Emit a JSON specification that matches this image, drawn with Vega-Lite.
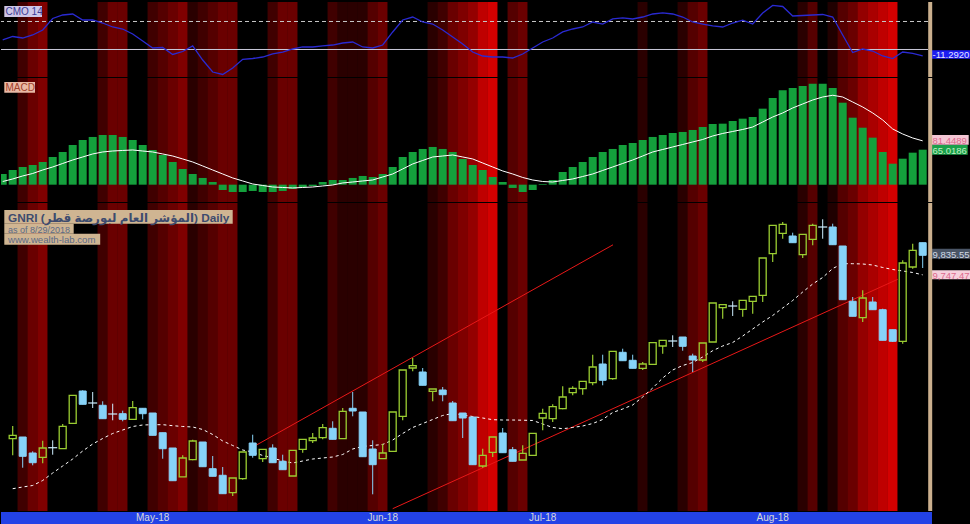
{
"$schema": "https://vega.github.io/schema/vega-lite/v6.json",
"background": "#000000",
"padding": 0,
"autosize": {"type": "pad"},
"spacing": 1,
"bounds": "flush",
"config": {"view": {"stroke": null}, "axis": {"disable": true}, "legend": {"disable": true}, "font": "Liberation Sans"},
"resolve": {"scale": {"x": "independent", "y": "independent"}},
"datasets": {
"bars": [
{"i":-1,"heat":0,"cmo":17.0,"macd":19.9,"sig":5.9},
{"i":0,"heat":0,"cmo":23.2,"macd":27.3,"sig":10.6,"o":9010.2,"h":9067.4,"l":8935.5,"c":9025.5,"sma":8785.2},
{"i":1,"heat":3,"cmo":20.5,"macd":32.9,"sig":16.2,"o":9017.9,"h":9017.9,"l":8879.7,"c":8931.0,"sma":8792.9},
{"i":2,"heat":5,"cmo":25.9,"macd":36.6,"sig":20.8,"o":8945.9,"h":8953.5,"l":8890.5,"c":8902.2,"sma":8799.7},
{"i":3,"heat":6,"cmo":34.8,"macd":42.2,"sig":27.3,"o":8926.5,"h":9001.2,"l":8899.5,"c":8968.4,"sma":8822.2},
{"i":4,"heat":0,"cmo":55.4,"macd":51.5,"sig":32.9,"o":8969.7,"h":9003.0,"l":8938.2,"c":8969.7,"sma":8855.9},
{"i":5,"heat":0,"cmo":61.6,"macd":60.8,"sig":39.4,"o":8965.2,"h":9076.4,"l":8965.2,"c":9066.0,"sma":8887.4},
{"i":6,"heat":0,"cmo":63.4,"macd":73.8,"sig":45.9,"o":9079.5,"h":9206.9,"l":9078.6,"c":9205.6,"sma":8918.9},
{"i":7,"heat":0,"cmo":52.7,"macd":83.1,"sig":51.5,"o":9224.9,"h":9228.1,"l":9165.0,"c":9165.0,"sma":8954.9},
{"i":8,"heat":0,"cmo":52.7,"macd":88.7,"sig":57.1,"o":9170.9,"h":9220.4,"l":9148.4,"c":9170.9,"sma":8986.4},
{"i":9,"heat":3,"cmo":47.3,"macd":92.4,"sig":60.8,"o":9160.6,"h":9178.6,"l":9100.3,"c":9100.3,"sma":9011.2},
{"i":10,"heat":5,"cmo":40.2,"macd":92.4,"sig":62.6,"o":9121.4,"h":9167.8,"l":9093.1,"c":9121.4,"sma":9033.7},
{"i":11,"heat":5,"cmo":36.6,"macd":88.7,"sig":63.6,"o":9122.8,"h":9136.3,"l":9088.6,"c":9097.5,"sma":9049.4},
{"i":12,"heat":0,"cmo":27.7,"macd":83.1,"sig":64.5,"o":9097.5,"h":9179.9,"l":9097.5,"c":9149.8,"sma":9065.2},
{"i":13,"heat":0,"cmo":15.2,"macd":73.8,"sig":62.6,"o":9147.0,"h":9147.0,"l":9097.5,"c":9122.8,"sma":9071.9},
{"i":14,"heat":3,"cmo":2.7,"macd":64.5,"sig":60.8,"o":9125.9,"h":9125.9,"l":9025.5,"c":9025.5,"sma":9073.3},
{"i":15,"heat":4,"cmo":3.6,"macd":55.2,"sig":57.1,"o":9037.2,"h":9037.2,"l":8920.2,"c":8965.2,"sma":9073.3},
{"i":16,"heat":5,"cmo":-8.9,"macd":42.2,"sig":53.3,"o":8968.4,"h":8968.4,"l":8821.2,"c":8821.2,"sma":9068.8},
{"i":17,"heat":6,"cmo":-3.6,"macd":29.2,"sig":47.8,"o":8838.5,"h":8935.5,"l":8838.5,"c":8923.4,"sma":9065.2},
{"i":18,"heat":2,"cmo":6.3,"macd":19.9,"sig":42.2,"o":8915.7,"h":9005.7,"l":8913.0,"c":8999.9,"sma":9062.9},
{"i":19,"heat":3,"cmo":-18.8,"macd":12.5,"sig":34.8,"o":8995.4,"h":8995.4,"l":8884.2,"c":8884.2,"sma":9051.7},
{"i":20,"heat":4,"cmo":-40.2,"macd":5.0,"sig":27.3,"o":8875.3,"h":8932.4,"l":8841.1,"c":8841.1,"sma":9029.2},
{"i":21,"heat":5,"cmo":-44.6,"macd":-9.9,"sig":19.9,"o":8845.6,"h":8882.9,"l":8762.8,"c":8762.8,"sma":9000.0},
{"i":22,"heat":5,"cmo":-33.0,"macd":-13.6,"sig":12.5,"o":8767.3,"h":8833.4,"l":8752.9,"c":8833.4,"sma":8979.7},
{"i":23,"heat":0,"cmo":-17.5,"macd":-13.6,"sig":6.9,"o":8830.3,"h":8950.4,"l":8825.8,"c":8950.4,"sma":8959.4},
{"i":24,"heat":0,"cmo":-16.1,"macd":-11.7,"sig":1.3,"o":8990.9,"h":9028.2,"l":8924.8,"c":8935.5,"sma":8950.4},
{"i":25,"heat":0,"cmo":-13.4,"macd":-13.6,"sig":-1.5,"o":8920.2,"h":8962.5,"l":8905.4,"c":8962.5,"sma":8934.7},
{"i":26,"heat":3,"cmo":-8.0,"macd":-13.6,"sig":-4.3,"o":8968.4,"h":8985.0,"l":8902.2,"c":8902.2,"sma":8923.4},
{"i":27,"heat":5,"cmo":-4.5,"macd":-11.7,"sig":-5.2,"o":8908.6,"h":8938.2,"l":8870.7,"c":8870.7,"sma":8909.9},
{"i":28,"heat":5,"cmo":0.9,"macd":-8.0,"sig":-6.1,"o":8842.4,"h":8958.0,"l":8842.4,"c":8958.0,"sma":8900.9},
{"i":29,"heat":0,"cmo":4.5,"macd":-4.3,"sig":-5.2,"o":8962.5,"h":9007.5,"l":8947.3,"c":9007.5,"sma":8909.9},
{"i":30,"heat":0,"cmo":4.5,"macd":-2.4,"sig":-4.3,"o":9001.2,"h":9035.9,"l":8990.9,"c":9013.4,"sma":8918.9},
{"i":31,"heat":0,"cmo":6.3,"macd":5.0,"sig":-2.4,"o":9014.7,"h":9076.4,"l":9007.5,"c":9059.7,"sma":8923.4},
{"i":32,"heat":3,"cmo":8.0,"macd":8.7,"sig":-0.6,"o":9057.0,"h":9088.6,"l":9007.5,"c":9007.5,"sma":8927.9},
{"i":33,"heat":2,"cmo":11.6,"macd":8.7,"sig":3.2,"o":9010.2,"h":9148.4,"l":9010.2,"c":9133.6,"sma":8939.2},
{"i":34,"heat":2,"cmo":13.4,"macd":12.5,"sig":5.0,"o":9147.0,"h":9220.4,"l":9111.1,"c":9134.9,"sma":8963.9},
{"i":35,"heat":2,"cmo":4.5,"macd":16.2,"sig":6.9,"o":9130.4,"h":9130.4,"l":8929.2,"c":8929.2,"sma":8975.2},
{"i":36,"heat":4,"cmo":2.7,"macd":14.3,"sig":8.7,"o":8963.9,"h":9003.0,"l":8760.0,"c":8893.3,"sma":8979.7},
{"i":37,"heat":5,"cmo":8.0,"macd":19.9,"sig":14.3,"o":8920.2,"h":8987.7,"l":8920.2,"c":8945.9,"sma":8984.2},
{"i":38,"heat":0,"cmo":31.3,"macd":32.9,"sig":19.9,"o":8953.5,"h":9130.4,"l":8950.4,"c":9130.4,"sma":9004.4},
{"i":39,"heat":0,"cmo":52.7,"macd":51.5,"sig":29.2,"o":9111.1,"h":9319.4,"l":9093.1,"c":9319.4,"sma":9033.7},
{"i":40,"heat":0,"cmo":58.0,"macd":60.8,"sig":38.5,"o":9328.4,"h":9373.4,"l":9313.6,"c":9338.8,"sma":9060.7},
{"i":41,"heat":0,"cmo":49.1,"macd":66.4,"sig":45.0,"o":9310.4,"h":9328.4,"l":9250.6,"c":9250.6,"sma":9078.6},
{"i":42,"heat":2,"cmo":45.5,"macd":70.1,"sig":51.5,"o":9223.6,"h":9233.9,"l":9178.6,"c":9233.9,"sma":9096.7},
{"i":43,"heat":3,"cmo":34.8,"macd":66.4,"sig":53.3,"o":9229.4,"h":9242.9,"l":9178.6,"c":9208.3,"sma":9114.7},
{"i":44,"heat":5,"cmo":22.3,"macd":60.8,"sig":55.2,"o":9170.9,"h":9179.9,"l":9091.3,"c":9091.3,"sma":9123.7},
{"i":45,"heat":6,"cmo":9.8,"macd":47.8,"sig":51.5,"o":9125.9,"h":9125.9,"l":9013.4,"c":9103.4,"sma":9116.9},
{"i":46,"heat":7,"cmo":-4.5,"macd":36.6,"sig":47.8,"o":9107.9,"h":9107.9,"l":8893.3,"c":8893.3,"sma":9110.2},
{"i":47,"heat":9,"cmo":-11.6,"macd":27.3,"sig":40.3,"o":8887.4,"h":8965.2,"l":8879.7,"c":8935.5,"sma":9103.4},
{"i":48,"heat":10,"cmo":-13.4,"macd":14.3,"sig":32.9,"o":8948.9,"h":9017.9,"l":8928.0,"c":9017.9,"sma":9095.8},
{"i":49,"heat":0,"cmo":-13.4,"macd":5.0,"sig":25.5,"o":9035.9,"h":9058.4,"l":8947.3,"c":8947.3,"sma":9094.4},
{"i":50,"heat":4,"cmo":-15.2,"macd":-6.1,"sig":19.9,"o":8960.7,"h":8972.9,"l":8908.6,"c":8908.6,"sma":9094.4},
{"i":51,"heat":5,"cmo":-8.0,"macd":-13.6,"sig":13.4,"o":8914.4,"h":8980.5,"l":8914.4,"c":8944.5,"sma":9093.5},
{"i":52,"heat":0,"cmo":2.7,"macd":-9.9,"sig":8.7,"o":8935.5,"h":9034.5,"l":8935.5,"c":9034.5,"sma":9092.2},
{"i":53,"heat":0,"cmo":13.4,"macd":1.3,"sig":5.9,"o":9103.4,"h":9145.2,"l":9048.1,"c":9124.6,"sma":9076.4},
{"i":54,"heat":0,"cmo":20.5,"macd":8.7,"sig":5.0,"o":9100.3,"h":9165.0,"l":9085.4,"c":9154.3,"sma":9060.7},
{"i":55,"heat":0,"cmo":31.3,"macd":23.6,"sig":7.8,"o":9145.2,"h":9246.0,"l":9142.6,"c":9197.9,"sma":9055.2},
{"i":56,"heat":0,"cmo":36.6,"macd":32.9,"sig":10.6,"o":9217.3,"h":9246.0,"l":9205.6,"c":9237.1,"sma":9060.7},
{"i":57,"heat":0,"cmo":40.2,"macd":42.2,"sig":15.2,"o":9235.3,"h":9268.6,"l":9208.3,"c":9268.6,"sma":9067.4},
{"i":58,"heat":0,"cmo":49.1,"macd":51.5,"sig":19.9,"o":9262.2,"h":9388.2,"l":9250.6,"c":9332.9,"sma":9078.6},
{"i":59,"heat":0,"cmo":45.5,"macd":60.8,"sig":26.4,"o":9346.4,"h":9388.2,"l":9250.6,"c":9273.1,"sma":9096.7},
{"i":60,"heat":0,"cmo":54.5,"macd":66.4,"sig":32.9,"o":9280.3,"h":9403.5,"l":9275.8,"c":9403.5,"sma":9128.2},
{"i":61,"heat":0,"cmo":56.3,"macd":73.8,"sig":39.4,"o":9399.0,"h":9415.2,"l":9361.2,"c":9361.2,"sma":9143.9},
{"i":62,"heat":0,"cmo":54.5,"macd":77.5,"sig":45.9,"o":9363.0,"h":9388.2,"l":9327.0,"c":9327.0,"sma":9161.9},
{"i":63,"heat":2,"cmo":58.0,"macd":83.1,"sig":53.3,"o":9327.0,"h":9355.4,"l":9319.9,"c":9346.4,"sma":9197.9},
{"i":64,"heat":0,"cmo":63.4,"macd":88.7,"sig":60.8,"o":9345.0,"h":9442.2,"l":9345.0,"c":9442.2,"sma":9238.4},
{"i":65,"heat":0,"cmo":65.2,"macd":92.4,"sig":65.4,"o":9427.4,"h":9453.0,"l":9392.7,"c":9453.0,"sma":9283.4},
{"i":66,"heat":0,"cmo":63.4,"macd":96.1,"sig":70.1,"o":9449.9,"h":9475.5,"l":9422.9,"c":9449.9,"sma":9319.4},
{"i":67,"heat":2,"cmo":58.0,"macd":98.0,"sig":74.7,"o":9467.9,"h":9467.9,"l":9406.2,"c":9426.0,"sma":9339.7},
{"i":68,"heat":4,"cmo":49.1,"macd":101.7,"sig":79.4,"o":9382.4,"h":9392.7,"l":9310.4,"c":9364.4,"sma":9353.2},
{"i":69,"heat":5,"cmo":45.5,"macd":107.2,"sig":84.0,"o":9364.4,"h":9440.9,"l":9355.4,"c":9440.9,"sma":9377.9},
{"i":70,"heat":0,"cmo":42.0,"macd":112.8,"sig":90.5,"o":9445.4,"h":9620.9,"l":9445.4,"c":9620.9,"sma":9406.3},
{"i":71,"heat":0,"cmo":40.2,"macd":113.4,"sig":95.2,"o":9599.7,"h":9613.2,"l":9550.2,"c":9613.2,"sma":9427.4},
{"i":72,"heat":0,"cmo":47.3,"macd":118.4,"sig":98.9,"o":9607.4,"h":9628.6,"l":9562.4,"c":9607.4,"sma":9443.2},
{"i":73,"heat":0,"cmo":52.5,"macd":122.7,"sig":102.6,"o":9592.6,"h":9633.1,"l":9559.3,"c":9633.1,"sma":9472.4},
{"i":74,"heat":0,"cmo":45.5,"macd":125.8,"sig":107.2,"o":9628.6,"h":9651.1,"l":9572.7,"c":9651.1,"sma":9503.9},
{"i":75,"heat":0,"cmo":65.2,"macd":141.3,"sig":116.5,"o":9655.6,"h":9823.4,"l":9625.4,"c":9823.4,"sma":9535.4},
{"i":76,"heat":0,"cmo":78.6,"macd":161.2,"sig":125.8,"o":9842.8,"h":9970.5,"l":9805.4,"c":9970.5,"sma":9564.7},
{"i":77,"heat":0,"cmo":76.8,"macd":175.5,"sig":133.3,"o":9934.5,"h":9985.4,"l":9910.2,"c":9975.0,"sma":9598.4},
{"i":78,"heat":0,"cmo":59.8,"macd":179.7,"sig":142.6,"o":9922.4,"h":9937.3,"l":9892.3,"c":9892.3,"sma":9632.2},
{"i":79,"heat":2,"cmo":60.7,"macd":183.5,"sig":150.0,"o":9838.3,"h":9930.0,"l":9823.4,"c":9930.0,"sma":9670.4},
{"i":80,"heat":4,"cmo":61.6,"macd":187.7,"sig":157.4,"o":9907.6,"h":9977.8,"l":9880.5,"c":9970.5,"sma":9706.4},
{"i":81,"heat":0,"cmo":62.5,"macd":187.7,"sig":163.0,"o":9962.9,"h":9997.6,"l":9910.2,"c":9962.9,"sma":9735.7},
{"i":82,"heat":1.5,"cmo":58.0,"macd":179.7,"sig":166.2,"o":9962.9,"h":9977.8,"l":9883.2,"c":9883.2,"sma":9776.2},
{"i":83,"heat":4,"cmo":25.9,"macd":152.4,"sig":163.0,"o":9877.4,"h":9877.4,"l":9635.8,"c":9635.8,"sma":9797.8},
{"i":84,"heat":5,"cmo":-5.4,"macd":124.5,"sig":153.7,"o":9628.6,"h":9647.9,"l":9561.1,"c":9561.1,"sma":9797.8},
{"i":85,"heat":7,"cmo":0.9,"macd":105.9,"sig":144.4,"o":9554.8,"h":9678.0,"l":9535.4,"c":9643.4,"sma":9796.4},
{"i":86,"heat":8,"cmo":-2.7,"macd":87.4,"sig":133.3,"o":9625.4,"h":9647.9,"l":9590.7,"c":9590.7,"sma":9791.9},
{"i":87,"heat":9,"cmo":-11.6,"macd":60.8,"sig":120.3,"o":9590.7,"h":9595.3,"l":9453.0,"c":9453.0,"sma":9780.7},
{"i":88,"heat":10,"cmo":-16.1,"macd":39.0,"sig":103.5,"o":9500.7,"h":9500.7,"l":9445.4,"c":9448.6,"sma":9771.7},
{"i":89,"heat":0,"cmo":-4.5,"macd":48.3,"sig":94.2,"o":9448.6,"h":9813.0,"l":9437.8,"c":9800.9,"sma":9764.9},
{"i":90,"heat":0,"cmo":-7.1,"macd":59.5,"sig":86.8,"o":9782.9,"h":9887.8,"l":9775.3,"c":9858.1,"sma":9758.2},
{"i":91,"heat":0,"cmo":-11.292,"macd":65.0186,"sig":81.4489,"o":9892.3,"h":9892.3,"l":9778.4,"c":9835.55,"sma":9747.47}
],
"trend": [
{"line":"upper","i":24.33,"p":8980.6},{"line":"upper","i":60.03,"p":9882.8},
{"line":"lower","i":38.0,"p":8695.3},{"line":"lower","i":88.5,"p":9727.5}
],
"months": [{"i":14,"m":"May-18"},{"i":37,"m":"Jun-18"},{"i":53,"m":"Jul-18"},{"i":76,"m":"Aug-18"}],
"one": [{}]
},
"vconcat": [
{
"width": 927, "height": 75,
"layer": [
{"data": {"name": "bars"}, "mark": {"type": "bar", "size": 10.3, "clip": true, "strokeWidth": 0},
 "encoding": {"x": {"field": "i", "type": "quantitative", "scale": {"domain": [-1.17, 91.53], "nice": false, "zero": false, "padding": 0}},
  "y": {"datum": 84.8, "scale": {"domain": [-49.1, 84.8], "nice": false, "zero": false}}, "y2": {"datum": -49.1},
  "fill": {"field": "heat", "type": "quantitative", "scale": {"type": "linear", "domain": [0, 10], "range": ["#000000", "#d40000"], "interpolate": "rgb", "zero": false, "nice": false, "clamp": true}, "legend": null}}},
{"data": {"name": "one"}, "mark": {"type": "rule", "color": "#c8c8c8", "strokeWidth": 1, "strokeDash": [4, 3]}, "encoding": {"y": {"datum": 50, "scale": {"domain": [-49.1, 84.8], "nice": false, "zero": false}}}},
{"data": {"name": "one"}, "mark": {"type": "rule", "color": "#c8c8d8", "strokeWidth": 1}, "encoding": {"y": {"datum": 0, "scale": {"domain": [-49.1, 84.8], "nice": false, "zero": false}}}},
{"data": {"name": "bars"}, "mark": {"type": "line", "color": "#2a2ad2", "strokeWidth": 1.3, "clip": true},
 "encoding": {"x": {"field": "i", "type": "quantitative", "scale": {"domain": [-1.17, 91.53], "nice": false, "zero": false, "padding": 0}},
  "y": {"field": "cmo", "type": "quantitative", "scale": {"domain": [-49.1, 84.8], "nice": false, "zero": false}}}},
{"data": {"name": "one"}, "mark": {"type": "rect", "fill": "#cdc6e6"},
 "encoding": {"x": {"datum": -0.84, "scale": {"domain": [-1.17, 91.53], "nice": false, "zero": false, "padding": 0}}, "x2": {"datum": 2.93},
  "y": {"datum": 77.7, "scale": {"domain": [-49.1, 84.8], "nice": false, "zero": false}}, "y2": {"datum": 58.0}}},
{"data": {"name": "one"}, "mark": {"type": "text", "text": "CMO 14", "align": "left", "baseline": "middle", "fontSize": 10, "color": "#3c3c96", "dy": 1},
 "encoding": {"x": {"datum": -0.72, "scale": {"domain": [-1.17, 91.53], "nice": false, "zero": false, "padding": 0}},
  "y": {"datum": 67.9, "scale": {"domain": [-49.1, 84.8], "nice": false, "zero": false}}}},
{"data": {"name": "one"}, "mark": {"type": "rect", "fill": "#1c1cf0"},
 "encoding": {"x": {"datum": 91.93, "scale": {"domain": [-1.17, 91.53], "nice": false, "zero": false, "padding": 0}}, "x2": {"datum": 95.83},
  "y": {"datum": -1.4, "scale": {"domain": [-49.1, 84.8], "nice": false, "zero": false}}, "y2": {"datum": -16.4}}},
{"data": {"name": "one"}, "mark": {"type": "text", "text": "-11.2920", "align": "left", "baseline": "middle", "fontSize": 9.5, "color": "#e6e6ff", "dy": 1},
 "encoding": {"x": {"datum": 91.98, "scale": {"domain": [-1.17, 91.53], "nice": false, "zero": false, "padding": 0}},
  "y": {"datum": -8.9, "scale": {"domain": [-49.1, 84.8], "nice": false, "zero": false}}}},
{"data": {"name": "one"}, "mark": {"type": "rule", "color": "#cbb08e", "strokeWidth": 4},
 "encoding": {"x": {"datum": 91.75, "scale": {"domain": [-1.17, 91.53], "nice": false, "zero": false, "padding": 0}}}}
]
},
{
"width": 927, "height": 124,
"layer": [
{"data": {"name": "bars"}, "mark": {"type": "bar", "size": 10.3, "clip": true, "strokeWidth": 0},
 "encoding": {"x": {"field": "i", "type": "quantitative", "scale": {"domain": [-1.17, 91.53], "nice": false, "zero": false, "padding": 0}},
  "y": {"datum": 198.3, "scale": {"domain": [-32.2, 198.3], "nice": false, "zero": false}}, "y2": {"datum": -32.2},
  "fill": {"field": "heat", "type": "quantitative", "scale": {"type": "linear", "domain": [0, 10], "range": ["#000000", "#d40000"], "interpolate": "rgb", "zero": false, "nice": false, "clamp": true}, "legend": null}}},
{"data": {"name": "bars"}, "mark": {"type": "bar", "size": 8, "clip": true, "color": "#14a03c"},
 "encoding": {"x": {"field": "i", "type": "quantitative", "scale": {"domain": [-1.17, 91.53], "nice": false, "zero": false, "padding": 0}},
  "y": {"field": "macd", "type": "quantitative", "scale": {"domain": [-32.2, 198.3], "nice": false, "zero": false}}, "y2": {"datum": 0}}},
{"data": {"name": "bars"}, "mark": {"type": "line", "color": "#ffffff", "strokeWidth": 1, "clip": true},
 "encoding": {"x": {"field": "i", "type": "quantitative", "scale": {"domain": [-1.17, 91.53], "nice": false, "zero": false, "padding": 0}},
  "y": {"field": "sig", "type": "quantitative", "scale": {"domain": [-32.2, 198.3], "nice": false, "zero": false}}}},
{"data": {"name": "one"}, "mark": {"type": "rect", "fill": "#e9b9a5"},
 "encoding": {"x": {"datum": -0.84, "scale": {"domain": [-1.17, 91.53], "nice": false, "zero": false, "padding": 0}}, "x2": {"datum": 2.23},
  "y": {"datum": 190.9, "scale": {"domain": [-32.2, 198.3], "nice": false, "zero": false}}, "y2": {"datum": 171.0}}},
{"data": {"name": "one"}, "mark": {"type": "text", "text": "MACD", "align": "left", "baseline": "middle", "fontSize": 10, "color": "#a0402c", "dy": 1},
 "encoding": {"x": {"datum": -0.72, "scale": {"domain": [-1.17, 91.53], "nice": false, "zero": false, "padding": 0}},
  "y": {"datum": 181.0, "scale": {"domain": [-32.2, 198.3], "nice": false, "zero": false}}}},
{"data": {"name": "one"}, "mark": {"type": "rect", "fill": "#f4c6d4"},
 "encoding": {"x": {"datum": 91.93, "scale": {"domain": [-1.17, 91.53], "nice": false, "zero": false, "padding": 0}}, "x2": {"datum": 95.6},
  "y": {"datum": 92.4, "scale": {"domain": [-32.2, 198.3], "nice": false, "zero": false}}, "y2": {"datum": 74.3}}},
{"data": {"name": "one"}, "mark": {"type": "text", "text": "81.4489", "align": "left", "baseline": "middle", "fontSize": 9.5, "color": "#dc6a8c", "dy": 1},
 "encoding": {"x": {"datum": 91.98, "scale": {"domain": [-1.17, 91.53], "nice": false, "zero": false, "padding": 0}},
  "y": {"datum": 83.3, "scale": {"domain": [-32.2, 198.3], "nice": false, "zero": false}}}},
{"data": {"name": "one"}, "mark": {"type": "rect", "fill": "#1aa04a"},
 "encoding": {"x": {"datum": 91.93, "scale": {"domain": [-1.17, 91.53], "nice": false, "zero": false, "padding": 0}}, "x2": {"datum": 95.5},
  "y": {"datum": 73.8, "scale": {"domain": [-32.2, 198.3], "nice": false, "zero": false}}, "y2": {"datum": 55.8}}},
{"data": {"name": "one"}, "mark": {"type": "text", "text": "65.0186", "align": "left", "baseline": "middle", "fontSize": 9.5, "color": "#c0f0c4", "dy": 1},
 "encoding": {"x": {"datum": 91.98, "scale": {"domain": [-1.17, 91.53], "nice": false, "zero": false, "padding": 0}},
  "y": {"datum": 64.7, "scale": {"domain": [-32.2, 198.3], "nice": false, "zero": false}}}},
{"data": {"name": "one"}, "mark": {"type": "rule", "color": "#cbb08e", "strokeWidth": 4},
 "encoding": {"x": {"datum": 91.75, "scale": {"domain": [-1.17, 91.53], "nice": false, "zero": false, "padding": 0}}}}
]
},
{
"width": 927, "height": 308,
"layer": [
{"data": {"name": "bars"}, "mark": {"type": "bar", "size": 10.3, "clip": true, "strokeWidth": 0},
 "encoding": {"x": {"field": "i", "type": "quantitative", "scale": {"domain": [-1.17, 91.53], "nice": false, "zero": false, "padding": 0}},
  "y": {"datum": 10070.9, "scale": {"domain": [8684.9, 10070.9], "nice": false, "zero": false}}, "y2": {"datum": 8684.9},
  "fill": {"field": "heat", "type": "quantitative", "scale": {"type": "linear", "domain": [0, 10], "range": ["#000000", "#d40000"], "interpolate": "rgb", "zero": false, "nice": false, "clamp": true}, "legend": null}}},
{"data": {"name": "trend"}, "mark": {"type": "line", "color": "#e81818", "strokeWidth": 1, "clip": true},
 "encoding": {"x": {"field": "i", "type": "quantitative", "scale": {"domain": [-1.17, 91.53], "nice": false, "zero": false, "padding": 0}},
  "y": {"field": "p", "type": "quantitative", "scale": {"domain": [8684.9, 10070.9], "nice": false, "zero": false}}, "detail": {"field": "line"}}},
{"data": {"name": "bars"}, "mark": {"type": "line", "color": "#ffffff", "strokeWidth": 1, "strokeDash": [3, 3]},
 "encoding": {"x": {"field": "i", "type": "quantitative", "scale": {"domain": [-1.17, 91.53], "nice": false, "zero": false, "padding": 0}},
  "y": {"field": "sma", "type": "quantitative", "scale": {"domain": [8684.9, 10070.9], "nice": false, "zero": false}}}},
{"data": {"name": "bars"}, "transform": [{"filter": "datum.c < datum.o"}], "mark": {"type": "rule", "color": "#87d3f8", "strokeWidth": 1},
 "encoding": {"x": {"field": "i", "type": "quantitative", "scale": {"domain": [-1.17, 91.53], "nice": false, "zero": false, "padding": 0}},
  "y": {"field": "h", "type": "quantitative", "scale": {"domain": [8684.9, 10070.9], "nice": false, "zero": false}}, "y2": {"field": "l"}}},
{"data": {"name": "bars"}, "transform": [{"filter": "datum.c > datum.o"}], "mark": {"type": "rule", "color": "#9acd32", "strokeWidth": 1.2},
 "encoding": {"x": {"field": "i", "type": "quantitative", "scale": {"domain": [-1.17, 91.53], "nice": false, "zero": false, "padding": 0}},
  "y": {"field": "h", "type": "quantitative", "scale": {"domain": [8684.9, 10070.9], "nice": false, "zero": false}}, "y2": {"field": "c"}}},
{"data": {"name": "bars"}, "transform": [{"filter": "datum.c > datum.o"}], "mark": {"type": "rule", "color": "#9acd32", "strokeWidth": 1.2},
 "encoding": {"x": {"field": "i", "type": "quantitative", "scale": {"domain": [-1.17, 91.53], "nice": false, "zero": false, "padding": 0}},
  "y": {"field": "o", "type": "quantitative", "scale": {"domain": [8684.9, 10070.9], "nice": false, "zero": false}}, "y2": {"field": "l"}}},
{"data": {"name": "bars"}, "transform": [{"filter": "datum.o != null && datum.c == datum.o"}], "mark": {"type": "rule", "color": "#cdeeff", "strokeWidth": 1},
 "encoding": {"x": {"field": "i", "type": "quantitative", "scale": {"domain": [-1.17, 91.53], "nice": false, "zero": false, "padding": 0}},
  "y": {"field": "h", "type": "quantitative", "scale": {"domain": [8684.9, 10070.9], "nice": false, "zero": false}}, "y2": {"field": "l"}}},
{"data": {"name": "bars"}, "transform": [{"filter": "datum.o != null && datum.c == datum.o"}], "mark": {"type": "tick", "orient": "horizontal", "size": 9, "thickness": 1.2, "color": "#cdeeff", "opacity": 1},
 "encoding": {"x": {"field": "i", "type": "quantitative", "scale": {"domain": [-1.17, 91.53], "nice": false, "zero": false, "padding": 0}},
  "y": {"field": "o", "type": "quantitative", "scale": {"domain": [8684.9, 10070.9], "nice": false, "zero": false}}}},
{"data": {"name": "bars"}, "transform": [{"filter": "datum.c > datum.o"}], "mark": {"type": "bar", "size": 7, "filled": false, "color": "#9acd32", "strokeWidth": 1.3},
 "encoding": {"x": {"field": "i", "type": "quantitative", "scale": {"domain": [-1.17, 91.53], "nice": false, "zero": false, "padding": 0}},
  "y": {"field": "o", "type": "quantitative", "scale": {"domain": [8684.9, 10070.9], "nice": false, "zero": false}}, "y2": {"field": "c"}}},
{"data": {"name": "bars"}, "transform": [{"filter": "datum.c < datum.o"}], "mark": {"type": "bar", "size": 7, "fill": "#87d3f8", "stroke": "#87d3f8", "strokeWidth": 1},
 "encoding": {"x": {"field": "i", "type": "quantitative", "scale": {"domain": [-1.17, 91.53], "nice": false, "zero": false, "padding": 0}},
  "y": {"field": "o", "type": "quantitative", "scale": {"domain": [8684.9, 10070.9], "nice": false, "zero": false}}, "y2": {"field": "c"}}},
{"data": {"name": "one"}, "mark": {"type": "rect", "fill": "#cfb592"},
 "encoding": {"x": {"datum": -0.84, "scale": {"domain": [-1.17, 91.53], "nice": false, "zero": false, "padding": 0}}, "x2": {"datum": 22.0},
  "y": {"datum": 10039.4, "scale": {"domain": [8684.9, 10070.9], "nice": false, "zero": false}}, "y2": {"datum": 9977.7}}},
{"data": {"name": "one"}, "mark": {"type": "rect", "fill": "#cfb592"},
 "encoding": {"x": {"datum": -0.84, "scale": {"domain": [-1.17, 91.53], "nice": false, "zero": false, "padding": 0}}, "x2": {"datum": 6.1},
  "y": {"datum": 9977.7, "scale": {"domain": [8684.9, 10070.9], "nice": false, "zero": false}}, "y2": {"datum": 9932.7}}},
{"data": {"name": "one"}, "mark": {"type": "rect", "fill": "#cfb592"},
 "encoding": {"x": {"datum": -0.84, "scale": {"domain": [-1.17, 91.53], "nice": false, "zero": false, "padding": 0}}, "x2": {"datum": 8.75},
  "y": {"datum": 9932.7, "scale": {"domain": [8684.9, 10070.9], "nice": false, "zero": false}}, "y2": {"datum": 9883.3}}},
{"data": {"name": "one"}, "mark": {"type": "text", "text": "GNRI (المؤشر العام لبورصة قطر) Daily", "align": "left", "baseline": "middle", "fontSize": 11.8, "fontWeight": "bold", "font": "Liberation Sans, DejaVu Sans", "color": "#3d4b6e", "dy": 1},
 "encoding": {"x": {"datum": -0.47, "scale": {"domain": [-1.17, 91.53], "nice": false, "zero": false, "padding": 0}},
  "y": {"datum": 10007.9, "scale": {"domain": [8684.9, 10070.9], "nice": false, "zero": false}}}},
{"data": {"name": "one"}, "mark": {"type": "text", "text": "as of 8/29/2018", "align": "left", "baseline": "middle", "fontSize": 9, "color": "#5b6a88", "dy": 1},
 "encoding": {"x": {"datum": -0.47, "scale": {"domain": [-1.17, 91.53], "nice": false, "zero": false, "padding": 0}},
  "y": {"datum": 9955.3, "scale": {"domain": [8684.9, 10070.9], "nice": false, "zero": false}}}},
{"data": {"name": "one"}, "mark": {"type": "text", "text": "www.wealth-lab.com", "align": "left", "baseline": "middle", "fontSize": 9.6, "color": "#5b6a88", "dy": 1},
 "encoding": {"x": {"datum": -0.47, "scale": {"domain": [-1.17, 91.53], "nice": false, "zero": false, "padding": 0}},
  "y": {"datum": 9908.0, "scale": {"domain": [8684.9, 10070.9], "nice": false, "zero": false}}}},
{"data": {"name": "one"}, "mark": {"type": "rect", "fill": "#4a5566"},
 "encoding": {"x": {"datum": 91.93, "scale": {"domain": [-1.17, 91.53], "nice": false, "zero": false, "padding": 0}}, "x2": {"datum": 95.83},
  "y": {"datum": 9865.2, "scale": {"domain": [8684.9, 10070.9], "nice": false, "zero": false}}, "y2": {"datum": 9820.2}}},
{"data": {"name": "one"}, "mark": {"type": "text", "text": "9,835.55", "align": "left", "baseline": "middle", "fontSize": 9.5, "color": "#d0d8e4", "dy": 1},
 "encoding": {"x": {"datum": 91.98, "scale": {"domain": [-1.17, 91.53], "nice": false, "zero": false, "padding": 0}},
  "y": {"datum": 9842.7, "scale": {"domain": [8684.9, 10070.9], "nice": false, "zero": false}}}},
{"data": {"name": "one"}, "mark": {"type": "rect", "fill": "#f6d0dc"},
 "encoding": {"x": {"datum": 91.93, "scale": {"domain": [-1.17, 91.53], "nice": false, "zero": false, "padding": 0}}, "x2": {"datum": 95.83},
  "y": {"datum": 9768.0, "scale": {"domain": [8684.9, 10070.9], "nice": false, "zero": false}}, "y2": {"datum": 9727.5}}},
{"data": {"name": "one"}, "mark": {"type": "text", "text": "9,747.47", "align": "left", "baseline": "middle", "fontSize": 9.5, "color": "#dc6a8c", "dy": 1},
 "encoding": {"x": {"datum": 91.98, "scale": {"domain": [-1.17, 91.53], "nice": false, "zero": false, "padding": 0}},
  "y": {"datum": 9747.8, "scale": {"domain": [8684.9, 10070.9], "nice": false, "zero": false}}}},
{"data": {"name": "one"}, "mark": {"type": "rule", "color": "#cbb08e", "strokeWidth": 4},
 "encoding": {"x": {"datum": 91.75, "scale": {"domain": [-1.17, 91.53], "nice": false, "zero": false, "padding": 0}}}}
]
},
{
"width": 931, "height": 12,
"view": {"fill": "#2342e6", "stroke": null},
"data": {"name": "months"},
"mark": {"type": "text", "color": "#d8d8d8", "fontSize": 10, "baseline": "middle"},
"encoding": {"x": {"field": "i", "type": "quantitative", "scale": {"domain": [-1.17, 91.93], "nice": false, "zero": false, "padding": 0}}, "text": {"field": "m"}}
}
]
}
